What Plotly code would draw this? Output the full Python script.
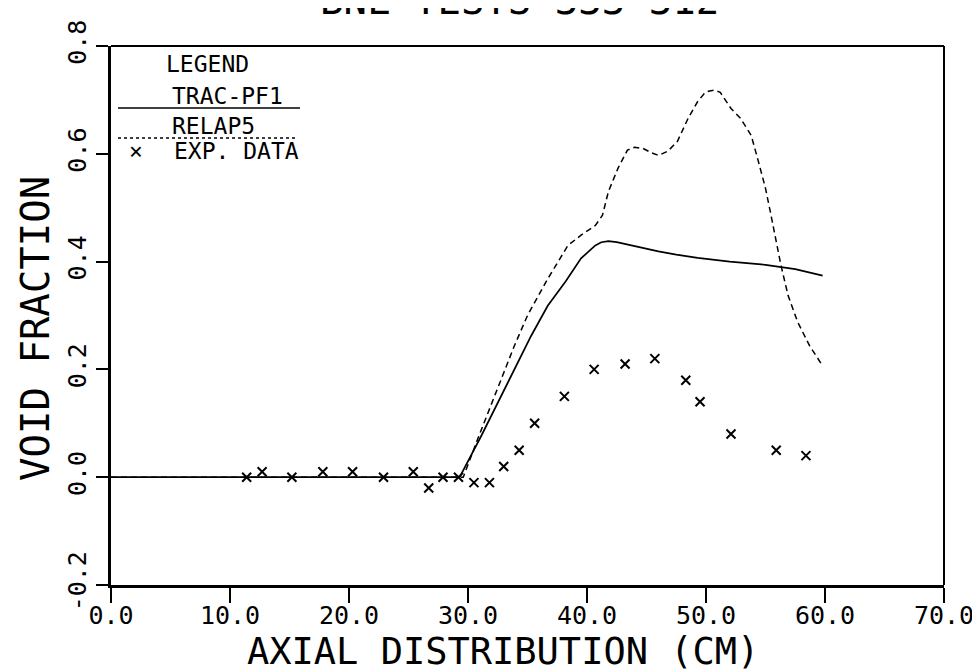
import plotly.graph_objects as go

# TRAC-PF1 (solid)
trac_x = [0.0, 29.3, 31.1, 33.4, 35.3, 36.7, 38.2, 39.5, 40.2, 40.7, 41.2, 41.8, 42.5, 43.5, 45.0, 46.0, 47.5, 49.3, 52.0, 55.0, 57.5, 59.8]
trac_y = [0.0, 0.0, 0.076, 0.177, 0.262, 0.318, 0.363, 0.406, 0.421, 0.430, 0.436, 0.438, 0.436, 0.431, 0.423, 0.419, 0.413, 0.407, 0.400, 0.394, 0.386, 0.374]

# RELAP5 (dashed)
relap_x = [0.0, 29.6, 30.8, 32.5, 33.9, 35.0, 36.7, 38.4, 39.5, 40.7, 41.3, 41.8, 42.6, 43.4, 44.0, 44.7, 45.4, 46.0, 46.8, 47.6, 48.5, 49.3, 49.9,
           50.2, 50.7, 51.2, 51.6, 52.1, 52.9, 53.8, 54.4, 55.0, 55.4, 55.9, 56.3, 56.9, 57.7, 58.7, 59.7]
relap_y = [0.0, 0.0, 0.07, 0.164, 0.244, 0.30, 0.368, 0.43, 0.449, 0.467, 0.486, 0.53, 0.573, 0.607, 0.612, 0.61, 0.602, 0.597, 0.605, 0.623, 0.666, 0.697, 0.713,
           0.716, 0.718, 0.714, 0.70, 0.684, 0.666, 0.634, 0.586, 0.536, 0.493, 0.437, 0.393, 0.337, 0.288, 0.244, 0.21]

# Experimental data (x markers)
exp_x = [11.4, 12.7, 15.2, 17.8, 20.3, 22.9, 25.4, 26.7, 27.9, 29.2, 30.5, 31.8, 33.0, 34.3, 35.6, 38.1, 40.6, 43.2, 45.7, 48.3, 49.5, 52.1, 55.9, 58.4]
exp_y = [0.0, 0.01, 0.0, 0.01, 0.01, 0.0, 0.01, -0.02, 0.0, 0.0, -0.01, -0.01, 0.02, 0.05, 0.10, 0.15, 0.20, 0.21, 0.22, 0.18, 0.14, 0.08, 0.05, 0.04]

x_ticks = [0, 10, 20, 30, 40, 50, 60, 70]
x_labels = ["0.0", "10.0", "20.0", "30.0", "40.0", "50.0", "60.0", "70.0"]
y_ticks = [-0.2, 0.0, 0.2, 0.4, 0.6, 0.8]
y_labels = ["-0.2", "0.0", "0.2", "0.4", "0.6", "0.8"]

FONT = "DejaVu Sans Mono, monospace"

fig = go.Figure()
fig.add_trace(go.Scatter(x=trac_x, y=trac_y, mode="lines", line=dict(color="black", width=1.7),
                         showlegend=False))
fig.add_trace(go.Scatter(x=relap_x, y=relap_y, mode="lines", line=dict(color="black", width=1.5, dash="6px,4px"),
                         showlegend=False))
fig.add_trace(go.Scatter(x=exp_x, y=exp_y, mode="markers",
                         marker=dict(symbol="x-thin", size=9, line=dict(color="black", width=2)),
                         showlegend=False))

fig.update_layout(
    width=980, height=672,
    margin=dict(l=103, r=44, t=38, b=95, pad=0),
    paper_bgcolor="white", plot_bgcolor="white",
    font=dict(family=FONT, color="black"),
    xaxis=dict(range=[0, 70], tickvals=x_ticks, ticktext=x_labels, showgrid=False, zeroline=False,
               showline=True, linecolor="black", linewidth=3, mirror=False, automargin=False,
               ticks="outside", ticklen=15, tickwidth=1.5, tickcolor="black", ticklabelstandoff=-9,
               tickfont=dict(size=25, family=FONT)),
    yaxis=dict(range=[-0.2, 0.8], tickvals=y_ticks, ticktext=y_labels, showgrid=False, zeroline=False,
               showline=True, linecolor="black", linewidth=3, automargin=False,
               ticks="outside", ticklen=12, tickwidth=1.5, tickcolor="black", tickangle=-90,
               tickfont=dict(size=25, family=FONT)),
)

# top and right frame
fig.add_shape(type="line", xref="paper", yref="paper", x0=0, x1=1, y0=1, y1=1, line=dict(color="black", width=2))
fig.add_shape(type="line", xref="paper", yref="paper", x0=1, x1=1, y0=0, y1=1, line=dict(color="black", width=2))


def ptx(px):
    return (px - 103) / 833.0


def pty(py):
    return (577 - py) / 539.0


# Title (clipped at top as in reference)
fig.add_annotation(text="BNL TESTS 333-312", xref="paper", yref="paper", x=ptx(511), y=1.0, yshift=21,
                   xanchor="center", yanchor="bottom", showarrow=False, font=dict(size=39, family=FONT))

# Axis titles
fig.add_annotation(text="AXIAL DISTRIBUTION (CM)", xref="paper", yref="paper", x=ptx(495), y=pty(643),
                   xanchor="center", yanchor="middle", showarrow=False, font=dict(size=37, family=FONT))
fig.add_annotation(text="VOID FRACTION", xref="paper", yref="paper", x=ptx(28), y=pty(321), textangle=-90,
                   xanchor="center", yanchor="middle", showarrow=False, font=dict(size=39, family=FONT))


# Custom legend
def leg_text(txt, px, py):
    fig.add_annotation(text=txt, xref="paper", yref="paper", x=ptx(px), y=pty(py), xanchor="center", yanchor="middle",
                       showarrow=False, font=dict(size=23, family=FONT))


leg_text("LEGEND", 199, 56)
leg_text("TRAC-PF1", 219, 88)
fig.add_shape(type="line", xref="paper", yref="paper", x0=ptx(110), x1=ptx(292), y0=pty(100), y1=pty(100),
              line=dict(color="black", width=1.3))
leg_text("RELAP5", 205, 118)
fig.add_shape(type="line", xref="paper", yref="paper", x0=ptx(110), x1=ptx(288), y0=pty(130), y1=pty(130),
              line=dict(color="black", width=1.3, dash="3px,3px"))
leg_text("×", 128, 143)
leg_text("EXP. DATA", 228, 143)

fig.write_html("out.html")
